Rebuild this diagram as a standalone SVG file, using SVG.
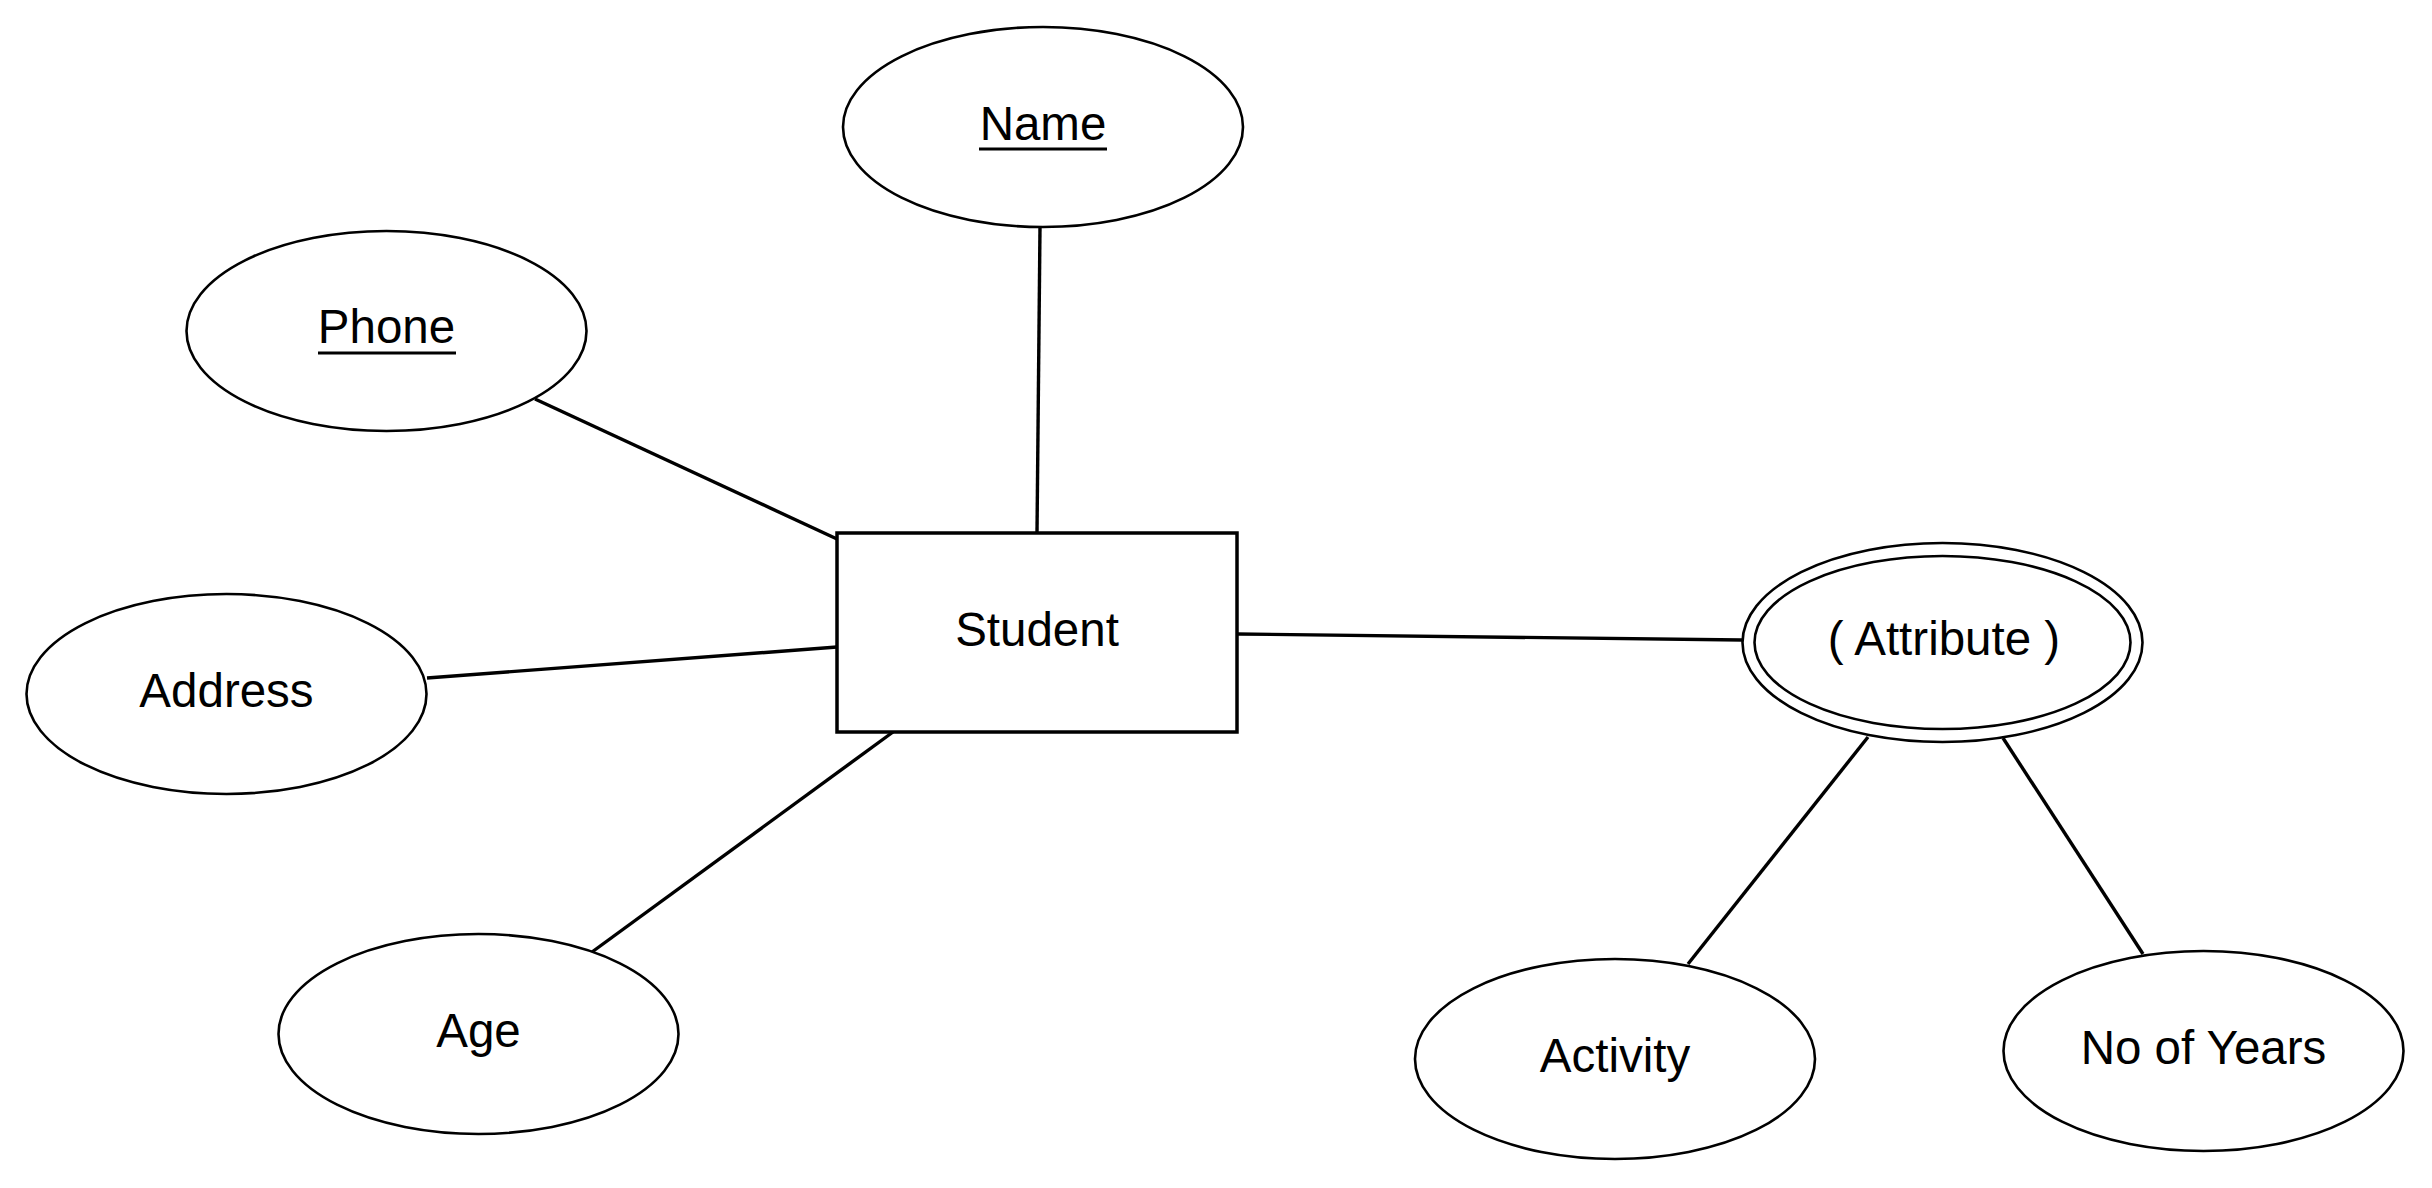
<svg xmlns="http://www.w3.org/2000/svg" width="2432" height="1188" viewBox="0 0 2432 1188">
<style>
.shape{fill:#fff;stroke:#000;stroke-width:2.6}
.box{fill:#fff;stroke:#000;stroke-width:3.5}
.lbl{font-family:"Liberation Sans",Arial,sans-serif;font-size:47.5px;fill:#000;text-anchor:middle}
.ul{stroke:#000;stroke-width:3.2}
.conn line{stroke:#000;stroke-width:3.4}
</style>
<rect width="2432" height="1188" fill="#fff"/>
<g id="connectors" class="conn">
<line x1="1040" y1="227" x2="1037" y2="533"/>
<line x1="535" y1="399" x2="837" y2="539"/>
<line x1="427" y1="678" x2="837" y2="647"/>
<line x1="592" y1="952" x2="893" y2="732"/>
<line x1="1237" y1="634" x2="1742" y2="640"/>
<line x1="1688" y1="964" x2="1868" y2="737"/>
<line x1="2143" y1="954" x2="2003" y2="738"/>
</g>
<g id="name">
<ellipse class="shape" cx="1043" cy="127" rx="200" ry="100"/>
<text class="lbl" x="1043" y="140">Name</text>
<line class="ul" x1="979" y1="149" x2="1107" y2="149"/>
</g>
<g id="phone">
<ellipse class="shape" cx="386.5" cy="331" rx="200" ry="100"/>
<text class="lbl" x="386.5" y="343">Phone</text>
<line class="ul" x1="318" y1="353" x2="456" y2="353"/>
</g>
<g id="address">
<ellipse class="shape" cx="226.5" cy="694" rx="200" ry="100"/>
<text class="lbl" x="226.5" y="707">Address</text>
</g>
<g id="age">
<ellipse class="shape" cx="478.5" cy="1034" rx="200" ry="100"/>
<text class="lbl" x="478.5" y="1047">Age</text>
</g>
<g id="student">
<rect class="box" x="837" y="533" width="400" height="199"/>
<text class="lbl" x="1037" y="646">Student</text>
</g>
<g id="attribute">
<ellipse class="shape" cx="1942.5" cy="642.5" rx="200" ry="99.5"/>
<ellipse class="shape" cx="1942.5" cy="642.5" rx="188" ry="86.5"/>
<text class="lbl" x="1944" y="655">( Attribute )</text>
</g>
<g id="activity">
<ellipse class="shape" cx="1615" cy="1059" rx="200" ry="100"/>
<text class="lbl" x="1615" y="1072">Activity</text>
</g>
<g id="years">
<ellipse class="shape" cx="2203.5" cy="1051" rx="200" ry="100"/>
<text class="lbl" x="2203.5" y="1064">No of Years</text>
</g>
</svg>
